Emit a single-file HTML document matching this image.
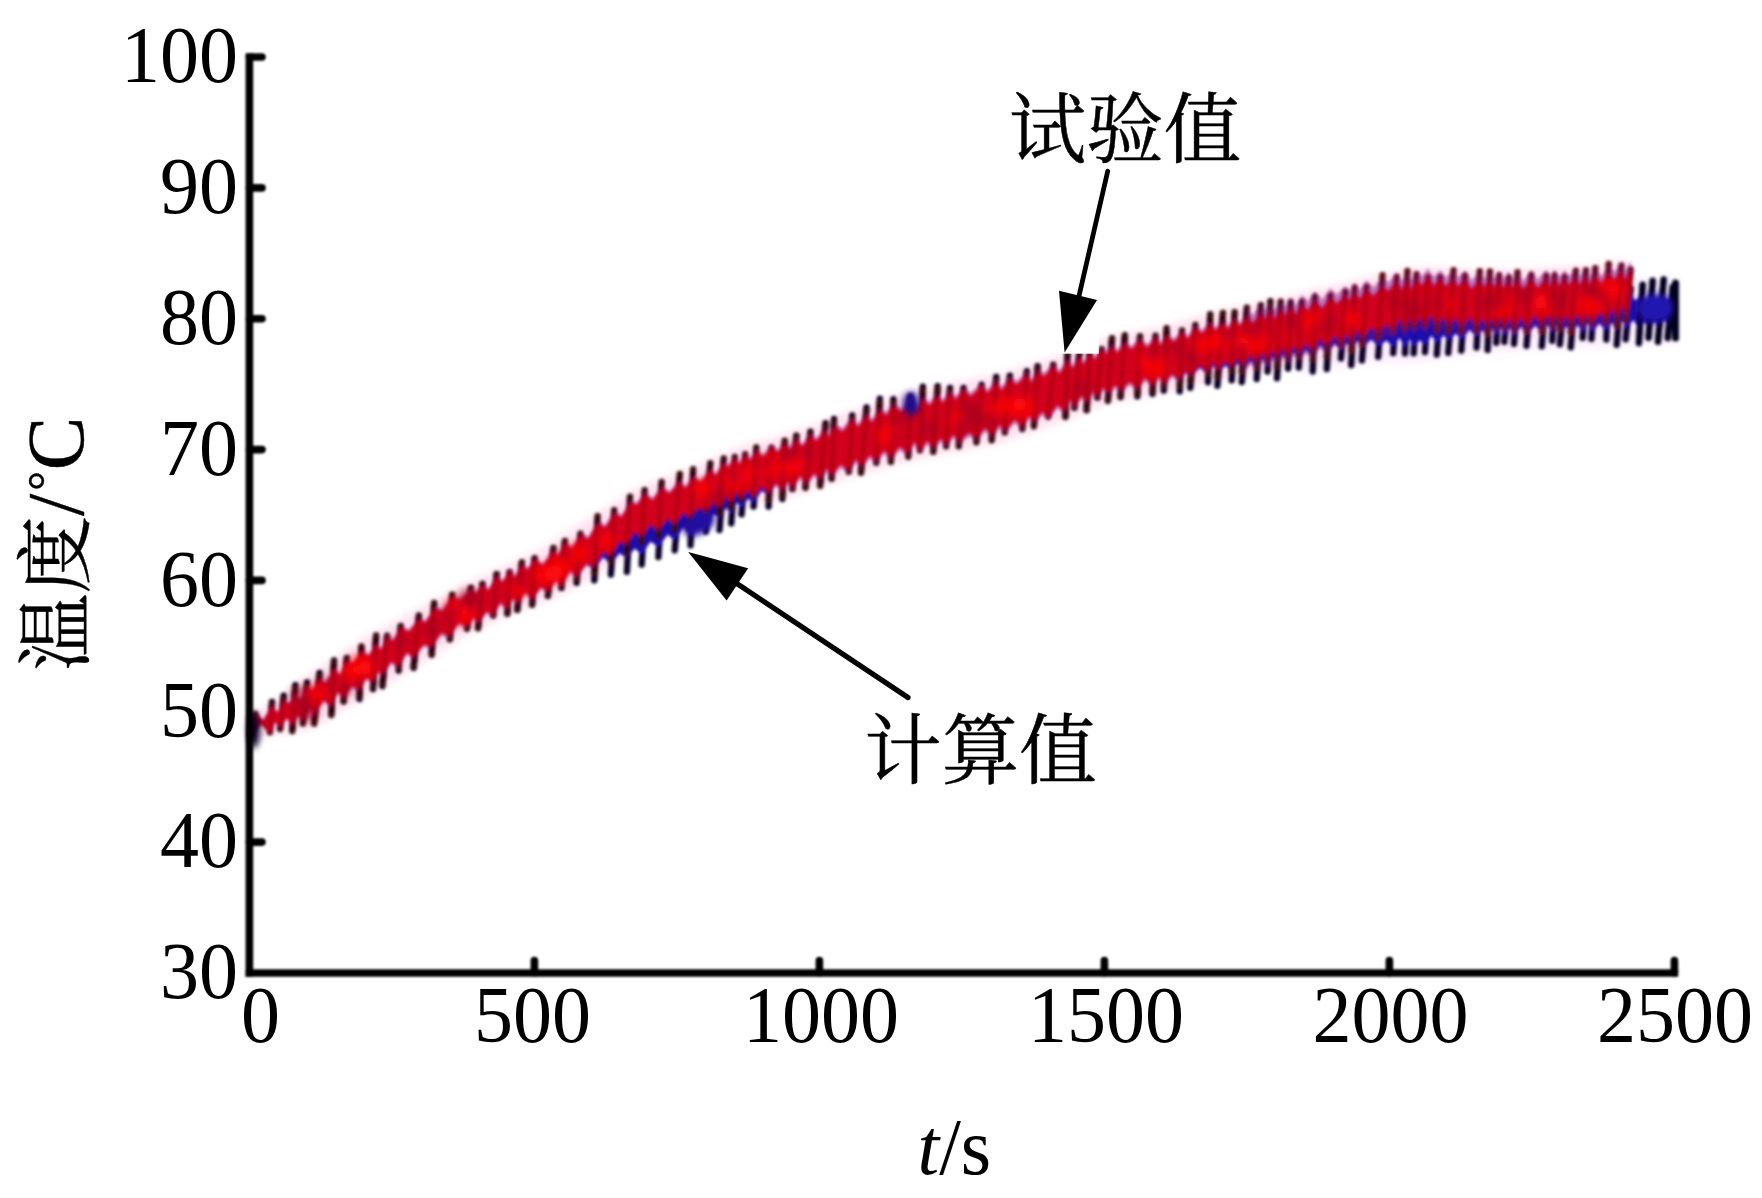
<!DOCTYPE html>
<html lang="zh"><head><meta charset="utf-8"><title>温度曲线</title>
<style>html,body{margin:0;padding:0;background:#fff;}body{width:1762px;height:1198px;overflow:hidden;}svg{display:block;}</style>
</head><body>
<svg width="1762" height="1198" viewBox="0 0 1762 1198">
<defs><filter id="b" x="-2%" y="-10%" width="104%" height="120%"><feGaussianBlur stdDeviation="1.7"/></filter><filter id="bh" x="-2%" y="-10%" width="104%" height="120%"><feGaussianBlur stdDeviation="4"/></filter><filter id="b2" x="-2%" y="-2%" width="104%" height="104%"><feGaussianBlur stdDeviation="0.8"/></filter><filter id="b3" x="-50%" y="-50%" width="200%" height="200%"><feGaussianBlur stdDeviation="3"/></filter></defs>
<rect width="1762" height="1198" fill="#fff"/>
<path d="M249.4,711.3 H262" stroke="#000" stroke-width="7.6" stroke-linecap="round" filter="url(#b2)"/>
<g filter="url(#bh)" opacity="0.22">
<path d="M252.0,713.0L260.0,709.8L268.0,705.6L276.0,699.7L284.0,693.9L292.0,688.1L300.0,682.2L308.0,676.4L316.0,670.9L324.0,665.5L332.0,660.0L340.0,654.5L348.0,649.1L356.0,643.6L364.0,638.8L372.0,634.4L380.0,630.0L388.0,625.6L396.0,621.2L404.0,616.8L412.0,612.4L420.0,608.2L428.0,603.9L436.0,599.7L444.0,595.4L452.0,591.1L460.0,586.9L468.0,583.2L476.0,579.6L484.0,576.0L492.0,572.3L500.0,568.7L508.0,565.1L516.0,561.3L524.0,557.4L532.0,553.5L540.0,549.5L548.0,545.6L556.0,540.4L564.0,535.2L572.0,530.0L580.0,524.8L588.0,519.6L596.0,514.5L604.0,509.4L612.0,504.3L620.0,499.2L628.0,494.1L636.0,489.0L644.0,485.4L652.0,482.6L660.0,479.9L668.0,477.1L676.0,474.4L684.0,471.6L692.0,468.7L700.0,465.1L708.0,461.5L716.0,457.9L724.0,454.3L732.0,450.7L740.0,447.1L748.0,444.8L756.0,442.6L764.0,440.5L772.0,438.3L780.0,436.2L788.0,434.1L796.0,431.9L804.0,429.0L812.0,425.9L820.0,422.9L828.0,419.8L836.0,416.8L844.0,413.7L852.0,410.9L860.0,408.1L868.0,405.4L876.0,402.7L884.0,399.9L892.0,397.2L900.0,394.6L908.0,392.9L916.0,391.1L924.0,389.4L932.0,387.7L940.0,386.0L948.0,384.2L956.0,382.6L964.0,381.1L972.0,379.5L980.0,377.9L988.0,376.3L996.0,374.8L1004.0,372.9L1012.0,370.5L1020.0,368.0L1028.0,365.6L1036.0,363.2L1044.0,360.7L1052.0,358.3L1060.0,355.7L1068.0,352.7L1076.0,349.7L1084.0,346.7L1092.0,343.7L1100.0,340.7L1108.0,337.7L1116.0,336.1L1124.0,334.6L1132.0,333.0L1140.0,331.5L1148.0,329.9L1156.0,328.3L1164.0,326.4L1172.0,324.2L1180.0,322.0L1188.0,319.8L1196.0,317.6L1204.0,315.4L1212.0,313.4L1220.0,311.6L1228.0,309.8L1236.0,308.0L1244.0,306.2L1252.0,304.4L1260.0,302.6L1268.0,300.8L1276.0,299.0L1284.0,297.2L1292.0,295.4L1300.0,293.6L1308.0,291.9L1316.0,290.1L1324.0,288.2L1332.0,286.3L1340.0,284.4L1348.0,282.5L1356.0,280.6L1364.0,278.7L1372.0,277.0L1380.0,275.4L1388.0,273.9L1396.0,272.3L1404.0,270.7L1412.0,269.1L1420.0,267.8L1428.0,268.1L1436.0,268.5L1444.0,268.8L1452.0,269.2L1460.0,269.5L1468.0,269.9L1476.0,270.0L1484.0,270.0L1492.0,270.0L1500.0,270.0L1508.0,270.1L1516.0,270.1L1524.0,270.0L1532.0,269.5L1540.0,269.1L1548.0,268.6L1556.0,268.2L1564.0,267.8L1572.0,267.3L1580.0,266.8L1588.0,266.2L1596.0,265.7L1604.0,264.4L1612.0,262.3L1620.0,261.2L1628.0,260.6L1628.0,325.6L1620.0,326.2L1612.0,327.3L1604.0,329.5L1596.0,330.9L1588.0,331.5L1580.0,332.1L1572.0,332.7L1564.0,333.2L1556.0,333.7L1548.0,334.2L1540.0,334.7L1532.0,335.2L1524.0,335.7L1516.0,335.9L1508.0,335.9L1500.0,336.0L1492.0,336.0L1484.0,336.0L1476.0,336.0L1468.0,336.0L1460.0,335.7L1452.0,335.4L1444.0,335.1L1436.0,334.9L1428.0,334.6L1420.0,334.3L1412.0,335.9L1404.0,337.8L1396.0,339.6L1388.0,341.5L1380.0,343.4L1372.0,345.3L1364.0,347.3L1356.0,349.5L1348.0,351.7L1340.0,353.9L1332.0,356.0L1324.0,358.2L1316.0,360.4L1308.0,362.0L1300.0,363.6L1292.0,365.3L1284.0,366.9L1276.0,368.6L1268.0,370.2L1260.0,371.9L1252.0,373.5L1244.0,375.2L1236.0,376.8L1228.0,378.5L1220.0,380.1L1212.0,381.8L1204.0,383.6L1196.0,385.5L1188.0,387.4L1180.0,389.3L1172.0,391.2L1164.0,393.1L1156.0,394.7L1148.0,396.0L1140.0,397.2L1132.0,398.5L1124.0,399.8L1116.0,401.0L1108.0,402.3L1100.0,405.6L1092.0,408.9L1084.0,412.1L1076.0,415.4L1068.0,418.7L1060.0,422.0L1052.0,424.9L1044.0,427.6L1036.0,430.3L1028.0,433.0L1020.0,435.8L1012.0,438.5L1004.0,441.2L996.0,443.2L988.0,444.7L980.0,446.3L972.0,447.9L964.0,449.5L956.0,451.0L948.0,452.6L940.0,454.4L932.0,456.1L924.0,457.8L916.0,459.5L908.0,461.3L900.0,463.0L892.0,465.2L884.0,467.5L876.0,469.8L868.0,472.1L860.0,474.3L852.0,476.6L844.0,479.1L836.0,481.7L828.0,484.3L820.0,486.9L812.0,489.5L804.0,492.1L796.0,494.6L788.0,496.4L780.0,498.3L772.0,500.2L764.0,502.0L756.0,503.9L748.0,505.7L740.0,507.8L732.0,511.1L724.0,514.4L716.0,517.7L708.0,521.0L700.0,524.3L692.0,527.6L684.0,530.6L676.0,533.5L668.0,536.4L660.0,539.3L652.0,542.2L644.0,545.1L636.0,548.9L628.0,554.1L620.0,559.4L612.0,564.6L604.0,569.9L596.0,575.1L588.0,580.4L580.0,584.4L572.0,588.4L564.0,592.4L556.0,596.4L548.0,600.4L540.0,603.1L532.0,605.9L524.0,608.6L516.0,611.3L508.0,614.7L500.0,618.6L492.0,622.5L484.0,626.4L476.0,630.3L468.0,634.2L460.0,638.3L452.0,643.4L444.0,648.6L436.0,653.8L428.0,658.9L420.0,664.1L412.0,669.2L404.0,674.0L396.0,678.7L388.0,683.4L380.0,688.1L372.0,692.8L364.0,697.5L356.0,702.2L348.0,706.7L340.0,711.3L332.0,715.9L324.0,720.5L316.0,725.0L308.0,729.6L300.0,730.8L292.0,732.1L284.0,733.3L276.0,734.5L268.0,735.8L260.0,736.2L252.0,736.2Z" fill="#ff70b0"/>
<path d="M1300.0,304.6L1308.0,302.9L1316.0,301.1L1324.0,299.9L1332.0,298.8L1340.0,297.7L1348.0,296.6L1356.0,295.5L1364.0,294.4L1372.0,294.0L1380.0,294.3L1388.0,294.6L1396.0,294.9L1404.0,295.2L1412.0,295.5L1420.0,295.6L1428.0,294.2L1436.0,292.8L1444.0,291.4L1452.0,290.0L1460.0,288.7L1468.0,287.3L1476.0,286.6L1484.0,286.2L1492.0,285.7L1500.0,285.3L1508.0,284.8L1516.0,284.4L1524.0,284.0L1532.0,283.7L1540.0,283.4L1548.0,283.2L1556.0,282.9L1564.0,282.6L1572.0,282.3L1580.0,281.9L1588.0,281.5L1596.0,281.2L1604.0,280.8L1612.0,280.4L1620.0,280.0L1628.0,279.6L1636.0,279.3L1644.0,279.0L1652.0,278.7L1660.0,278.4L1668.0,278.1L1676.0,277.8L1676.0,342.4L1668.0,342.8L1660.0,343.1L1652.0,343.5L1644.0,343.8L1636.0,344.2L1628.0,344.6L1620.0,345.0L1612.0,345.5L1604.0,345.9L1596.0,346.4L1588.0,346.8L1580.0,347.2L1572.0,347.7L1564.0,348.0L1556.0,348.4L1548.0,348.7L1540.0,349.1L1532.0,349.4L1524.0,349.7L1516.0,350.2L1508.0,350.7L1500.0,351.2L1492.0,351.7L1484.0,352.2L1476.0,352.7L1468.0,353.4L1460.0,354.9L1452.0,356.3L1444.0,357.7L1436.0,359.2L1428.0,360.6L1420.0,362.1L1412.0,362.2L1404.0,362.2L1396.0,362.2L1388.0,362.2L1380.0,362.2L1372.0,362.2L1364.0,362.9L1356.0,364.3L1348.0,365.7L1340.0,367.1L1332.0,368.5L1324.0,369.9L1316.0,371.4L1308.0,373.0L1300.0,374.6Z" fill="#e070e0" opacity="0.6"/>
</g>
<g filter="url(#b)" fill="none" stroke-linecap="round">
<path d="M250.9,735.0L255.1,714.4M269.9,730.0L272.0,702.0M280.1,726.2L283.7,695.6M292.3,727.7L295.3,685.2M302.9,719.5L307.1,682.4M314.1,720.4L319.6,672.9M331.3,713.5L334.0,660.4M343.6,701.3L346.9,658.0M359.4,699.0L361.4,648.4M373.0,689.0L376.1,637.4M382.4,686.1L387.1,637.6M398.7,670.6L400.7,628.0M413.6,667.8L418.9,617.3M431.7,654.9L434.1,604.0M449.9,639.4L452.2,595.1M467.0,628.5L470.9,587.9M478.0,628.1L482.5,584.0M493.1,615.4L496.6,574.1M507.4,613.7L509.6,572.1M517.3,609.9L521.9,562.6M532.1,604.8L534.6,558.9M547.9,595.9L553.4,549.2M561.4,587.9L564.9,543.0M576.6,582.8L580.4,536.8M594.3,580.3L597.6,523.1M610.9,574.5L614.2,522.8M626.9,571.8L630.0,515.0M641.7,564.5L644.6,512.0M658.4,557.1L661.6,502.7M674.7,550.3L679.8,493.7M690.5,545.3L693.1,488.0M705.7,531.5L710.3,480.8M719.5,530.1L723.7,474.9M731.2,523.4L734.8,472.6M741.5,514.4L745.2,468.6M753.6,506.6L756.3,458.5M768.6,506.7L771.4,454.5M782.3,499.0L784.7,443.6M792.4,488.9L796.3,435.7M805.5,486.3L810.4,431.7M820.1,483.9L825.5,423.2M831.6,476.5L834.0,419.0M848.8,468.9L852.2,415.5M861.0,469.8L866.5,407.4M876.3,459.8L879.8,398.8M890.9,458.8L893.4,399.3M908.2,453.7L910.3,396.5M919.9,447.3L922.8,386.7M933.3,448.7L937.6,386.1M946.1,443.3L950.0,387.9M958.8,443.3L963.5,387.9M976.4,439.3L981.6,384.6M991.7,437.3L996.2,377.0M1004.8,429.6L1009.9,375.8M1022.3,426.8L1026.8,371.2M1033.9,424.6L1037.6,366.1M1048.3,415.3L1053.2,364.7M1065.4,416.3L1067.5,352.5M1074.4,407.6L1079.4,352.2M1086.6,410.2L1089.6,353.2M1097.4,397.6L1101.6,349.8M1107.9,400.9L1112.0,339.2M1120.6,397.0L1124.8,336.7M1137.4,396.4L1140.0,338.4M1152.5,393.8L1155.5,338.5M1163.8,390.6L1166.6,331.9M1179.7,391.3L1182.0,335.6M1190.3,387.8L1195.4,331.2M1208.0,382.2L1210.2,322.0M1217.4,385.7L1222.9,321.5M1231.7,380.4L1234.6,321.5M1241.8,382.0L1246.8,317.7M1256.7,379.0L1260.8,315.9M1267.6,371.6L1270.4,312.3M1277.0,378.3L1280.7,312.8M1288.1,368.6L1290.7,313.0M1298.8,367.6L1301.7,312.8M1312.7,371.5L1314.8,307.7M1326.8,369.0L1330.4,307.9M1340.9,358.4L1345.5,305.0M1351.2,365.0L1354.7,301.9M1361.9,360.4L1366.5,302.4M1378.2,356.9L1382.5,294.1M1393.2,353.1L1396.7,298.9M1405.0,353.4L1407.4,295.9M1413.7,353.3L1416.5,301.2M1425.0,352.0L1428.1,303.5M1436.8,354.5L1440.3,301.0M1448.2,352.9L1453.5,291.3M1461.3,350.5L1465.0,293.9M1476.6,347.5L1479.7,287.8M1487.6,350.0L1489.9,287.3M1496.3,342.8L1499.2,290.6M1504.3,341.9L1508.9,292.4M1514.0,343.9L1517.5,286.5M1526.5,345.8L1531.2,288.9M1541.8,346.3L1546.4,290.1M1552.3,340.8L1554.6,289.8M1559.9,344.2L1564.7,291.7M1570.7,347.4L1575.8,285.7M1582.7,337.8L1585.9,285.4M1591.4,338.9L1595.3,283.8M1606.3,339.5L1608.7,281.1M1616.7,344.8L1621.4,284.2M1625.7,339.3L1630.7,288.4M1638.9,343.2L1642.6,284.6M1648.6,337.7L1652.6,280.8M1658.0,341.9L1663.6,279.5M1667.7,338.1L1672.7,286.9" stroke="#0a0428" stroke-width="6.4"/>
<path d="M255.1,714.6L263.0,721.2L272.0,705.6L277.4,712.9L283.7,699.5L288.8,703.8L295.3,693.7L300.4,699.7L307.1,686.0L311.9,691.3L319.6,679.1L325.7,684.4L334.0,670.2L339.9,677.5L346.9,665.2L353.8,668.7L361.4,657.0L368.5,662.0L376.1,649.4L380.7,655.6L387.1,642.2L393.2,646.6L400.7,633.3L409.0,637.1L418.9,624.8L425.6,627.8L434.1,613.3L443.0,615.5L452.2,601.8L461.0,605.1L470.9,593.3L475.6,597.2L482.5,588.2L488.5,593.9L496.6,579.8L502.6,585.6L509.6,574.1L515.0,581.1L521.9,568.7L527.5,573.9L534.6,563.8L543.0,570.3L553.4,555.8L557.9,561.6L564.9,548.8L571.9,555.8L580.4,542.2L588.3,546.7L597.6,534.1L605.3,541.0L614.2,529.6L621.5,536.6L630.0,524.7L636.8,529.8L644.6,519.5L652.6,525.6L661.6,512.5L669.6,517.6L679.8,505.1L685.5,511.6L693.1,499.9L700.9,504.8L710.3,491.1L715.8,496.7L723.7,483.5L728.3,488.2L734.8,477.5L739.2,484.2L745.2,473.1L750.2,477.2L756.3,466.1L763.5,470.7L771.4,457.7L777.8,461.7L784.7,450.8L790.0,455.9L796.3,443.0L802.2,450.3L810.4,438.6L816.4,443.8L825.5,432.2L828.8,439.6L834.0,428.5L842.7,433.2L852.2,421.2L858.1,428.6L866.5,416.9L871.9,424.1L879.8,411.7L886.1,417.4L893.4,407.5L901.7,413.9L910.3,401.7L916.3,410.6L922.8,400.4L929.4,407.3L937.6,397.7L942.7,404.9L950.0,394.2L955.6,401.3L963.5,392.1L971.1,398.2L981.6,387.6L987.5,394.9L996.2,384.4L1001.6,392.0L1009.9,381.4L1016.9,386.8L1026.8,376.9L1031.1,385.6L1037.6,374.7L1044.3,379.7L1053.2,369.7L1059.6,377.3L1067.5,364.4L1072.7,372.7L1079.4,361.0L1083.5,369.1L1089.6,357.9L1094.8,364.4L1101.6,354.5L1105.7,359.6L1112.0,351.9L1117.3,358.6L1124.8,349.6L1131.7,355.5L1140.0,346.4L1147.4,354.8L1155.5,344.6L1160.6,352.9L1166.6,344.1L1174.0,351.3L1182.0,341.7L1187.8,348.8L1195.4,338.5L1202.0,344.9L1210.2,336.2L1215.6,343.3L1222.9,335.5L1227.6,342.7L1234.6,333.1L1239.7,340.0L1246.8,331.1L1252.6,339.4L1260.8,329.0L1264.9,335.1L1270.4,326.7L1274.9,334.9L1280.7,324.7L1285.1,331.8L1290.7,322.5L1295.8,330.8L1301.7,320.4L1308.0,326.2L1314.8,316.2L1322.2,324.8L1330.4,314.3L1336.9,321.4L1345.5,313.4L1349.1,319.4L1354.7,311.4L1359.6,318.6L1366.5,309.9L1373.3,317.9L1382.5,310.1L1388.6,316.5L1396.7,308.6L1401.6,318.2L1407.4,309.9L1411.6,319.7L1416.5,311.0L1421.8,317.6L1428.1,308.0L1433.5,315.4L1440.3,307.2L1445.7,313.0L1453.5,305.2L1458.0,310.6L1465.0,302.3L1471.6,310.5L1479.7,301.5L1484.4,307.9L1489.9,300.7L1494.3,307.4L1499.2,299.7L1503.2,307.3L1508.9,299.7L1512.2,307.2L1517.5,298.7L1523.3,308.1L1531.2,297.6L1537.5,306.9L1546.4,297.1L1549.8,305.6L1554.6,297.0L1558.9,305.0L1564.7,297.9L1568.8,304.2L1575.8,297.1L1579.8,304.6L1585.9,295.4L1589.8,305.0L1595.3,295.7L1601.4,305.1L1608.7,295.0L1614.3,303.0L1621.4,293.4L1624.6,302.9L1630.7,293.0L1635.5,300.8L1642.6,294.0L1646.7,301.1L1652.6,293.6L1656.7,300.9L1663.6,292.4L1666.5,300.7L1672.7,293.0L1673.7,299.5L1671.7,320.7L1667.7,327.5L1664.5,319.7L1658.0,328.6L1654.7,321.3L1648.6,328.9L1644.7,321.8L1638.9,329.2L1633.5,320.0L1625.7,329.3L1622.6,320.6L1616.7,330.9L1612.3,322.7L1606.3,331.3L1599.4,323.5L1591.4,333.0L1587.8,322.9L1582.7,333.1L1577.8,325.3L1570.7,333.1L1566.8,326.4L1559.9,333.0L1556.9,324.9L1552.3,333.7L1547.8,324.9L1541.8,334.3L1535.5,325.4L1526.5,335.5L1521.3,326.8L1514.0,336.6L1510.2,328.3L1504.3,336.1L1501.2,327.9L1496.3,336.4L1492.3,329.3L1487.6,336.7L1482.4,330.2L1476.6,337.4L1469.6,329.8L1461.3,340.3L1456.0,333.4L1448.2,341.1L1443.7,335.3L1436.8,343.5L1431.5,335.5L1425.0,345.8L1419.8,340.3L1413.7,347.3L1409.6,339.3L1405.0,348.5L1399.6,337.7L1393.2,347.6L1386.6,340.5L1378.2,346.5L1371.3,339.6L1361.9,348.2L1357.6,340.9L1351.2,349.6L1347.1,343.4L1340.9,350.7L1334.9,343.5L1326.8,353.3L1320.2,345.1L1312.7,356.7L1306.0,349.9L1298.8,358.7L1293.8,352.2L1288.1,362.3L1283.1,354.4L1277.0,363.7L1272.9,356.4L1267.6,366.4L1262.9,358.8L1256.7,367.1L1250.6,360.8L1241.8,370.9L1237.7,363.0L1231.7,371.7L1225.6,365.6L1217.4,374.3L1213.6,365.8L1208.0,375.2L1200.0,367.6L1190.3,377.3L1185.8,371.9L1179.7,380.4L1172.0,373.9L1163.8,383.1L1158.6,374.3L1152.5,384.3L1145.4,375.6L1137.4,386.5L1129.7,379.4L1120.6,387.7L1115.3,382.1L1107.9,390.2L1103.7,383.7L1097.4,392.9L1092.8,387.1L1086.6,397.8L1081.5,390.2L1074.4,402.5L1070.7,394.0L1065.4,406.3L1057.6,399.4L1048.3,411.8L1042.3,405.6L1033.9,415.1L1029.1,408.2L1022.3,420.0L1014.9,412.4L1004.8,423.4L999.6,416.5L991.7,427.4L985.5,419.7L976.4,430.4L969.1,424.5L958.8,433.9L953.6,426.7L946.1,436.6L940.7,430.6L933.3,439.9L927.4,433.0L919.9,442.6L914.3,433.9L908.2,445.6L899.7,438.8L890.9,449.8L884.1,442.8L876.3,453.0L869.9,447.7L861.0,458.7L856.1,451.7L848.8,462.6L840.7,457.2L831.6,468.4L826.8,461.9L820.1,472.7L814.4,467.1L805.5,477.7L800.2,470.0L792.4,483.6L788.0,478.5L782.3,488.7L775.8,483.6L768.6,495.0L761.5,491.0L753.6,503.4L748.2,498.6L741.5,508.8L737.2,502.5L731.2,514.5L726.3,507.7L719.5,518.8L713.8,514.2L705.7,526.8L698.9,521.8L690.5,534.7L683.5,527.6L674.7,540.5L667.6,534.5L658.4,547.2L650.6,541.6L641.7,554.8L634.8,548.4L626.9,558.3L619.5,553.2L610.9,564.5L603.3,557.3L594.3,569.2L586.3,563.5L576.6,576.3L569.9,569.3L561.4,584.0L555.9,576.8L547.9,589.0L541.0,584.0L532.1,596.8L525.5,588.8L517.3,600.0L513.0,594.3L507.4,605.9L500.6,599.0L493.1,611.6L486.5,608.0L478.0,619.5L473.6,613.7L467.0,623.0L459.0,618.5L449.9,633.5L441.0,630.0L431.7,644.3L423.6,642.4L413.6,655.7L407.0,650.9L398.7,664.8L391.2,660.3L382.4,673.7L378.7,669.7L373.0,680.7L366.5,675.8L359.4,688.4L351.8,683.9L343.6,694.3L337.9,687.4L331.3,701.5L323.7,694.5L314.1,708.7L309.9,701.6L302.9,713.7L298.4,708.7L292.3,719.5L286.8,712.2L280.1,722.8L275.4,716.7L269.9,729.1L261.0,720.7L250.9,734.6Z" fill="#1e08ac" stroke="none"/>
<path d="M250.9,734.6L255.1,714.0M269.9,732.3L272.0,704.3M280.1,729.0L283.7,698.4M292.3,731.0L295.3,688.5M302.9,723.4L307.1,686.2M314.1,723.6L319.6,676.0M331.3,715.1L334.0,662.0M343.6,701.4L346.9,658.1M359.4,697.0L361.4,646.4M373.0,687.0L376.1,635.4M382.4,684.1L387.1,635.6M398.7,668.6L400.7,626.0M413.6,666.1L418.9,615.5M431.7,653.8L434.1,602.9M449.9,639.0L452.2,594.7M467.0,628.5L470.9,587.9M478.0,628.1L482.5,584.0M493.1,615.4L496.6,574.1M507.4,613.7L509.6,572.1M517.3,609.7L521.9,562.4M532.1,604.2L534.6,558.3M547.9,594.7L553.4,548.0M561.4,585.7L564.9,540.9M576.6,579.5L580.4,533.6M594.3,573.4L597.6,516.3M610.9,561.9L614.2,510.2M626.9,553.5L630.0,496.7M641.7,542.7L644.6,490.2M658.4,536.4L661.6,482.0M674.7,530.5L679.8,474.0M690.5,526.4L693.1,469.1M705.7,513.9L710.3,463.2M719.5,513.6L723.7,458.4M731.2,507.7L734.8,457.0M741.5,500.1L745.2,454.3M753.6,495.6L756.3,447.5M768.6,500.0L771.4,447.7M782.3,496.2L784.7,440.8M792.4,489.1L796.3,436.0M805.5,487.7L810.4,433.1M820.1,485.9L825.5,425.2M831.6,478.9L834.0,421.4M848.8,471.9L852.2,418.5M861.0,472.8L866.5,410.4M876.3,462.8L879.8,401.8M890.9,461.8L893.4,402.3M908.2,456.7L910.3,399.5M919.9,450.3L922.8,389.7M933.3,451.7L937.6,389.1M946.1,446.3L950.0,390.9M958.8,446.3L963.5,390.9M976.4,442.3L981.6,387.6M991.7,440.3L996.2,380.0M1004.8,432.4L1009.9,378.6M1022.3,429.0L1026.8,373.4M1033.9,426.3L1037.6,367.9M1048.3,416.5L1053.2,365.9M1065.4,417.0L1067.5,353.1M1074.4,407.8L1079.4,352.4M1086.6,410.0L1089.6,353.0M1097.4,397.0L1101.6,349.1M1107.9,399.8L1112.0,338.2M1120.6,395.4L1124.8,335.1M1137.4,394.2L1140.0,336.2M1152.5,391.0L1155.5,335.7M1163.8,387.0L1166.6,328.3M1179.7,386.2L1182.0,330.4M1190.3,381.4L1195.4,324.9M1208.0,374.3L1210.2,314.1M1217.4,377.1L1222.9,312.9M1231.7,371.1L1234.6,312.1M1241.8,371.9L1246.8,307.7M1256.7,368.2L1260.8,305.1M1267.6,360.6L1270.4,301.3M1277.0,367.3L1280.7,301.8M1288.1,357.6L1290.7,302.0M1298.8,356.6L1301.7,301.8M1312.7,360.5L1314.8,296.7M1326.8,356.9L1330.4,295.8" stroke="#340810" stroke-width="6.4"/>
<path d="M1340.9,344.9L1345.5,291.4M1351.2,350.5L1354.7,287.4M1361.9,344.8L1366.5,286.7M1378.2,338.0L1382.5,275.2M1393.2,330.8L1396.7,276.6M1405.0,328.4L1407.4,270.9M1413.7,326.2L1416.5,274.1M1425.0,325.6L1428.1,277.1M1436.8,330.7L1440.3,277.2M1448.2,331.8L1453.5,270.2M1461.3,332.0L1465.0,275.4M1476.6,331.0L1479.7,271.3M1487.6,334.1L1489.9,271.4M1496.3,327.4L1499.2,275.3M1504.3,327.0L1508.9,277.5M1514.0,329.6L1517.5,272.2M1526.5,331.6L1531.2,274.8M1541.8,331.9L1546.4,275.6M1552.3,326.2L1554.6,275.1M1559.9,329.3L1564.7,276.9M1570.7,332.4L1575.8,270.6M1582.7,322.6L1585.9,270.2M1591.4,323.4L1595.3,268.3M1606.3,322.3L1608.7,263.9M1616.7,325.9L1621.4,265.4M1625.7,320.4L1630.7,269.4" stroke="#5c0c12" stroke-width="6.4"/>
<path d="M255.1,711.0L263.0,719.4L272.0,703.8L277.4,711.4L283.7,697.9L288.8,702.5L295.3,692.2L300.4,698.5L307.1,684.7L311.9,689.9L319.6,676.9L325.7,681.5L334.0,666.2L339.9,672.9L346.9,659.6L353.8,661.8L361.4,649.0L368.5,654.1L376.1,641.5L380.7,647.6L387.1,634.2L393.2,638.6L400.7,625.4L409.0,629.2L418.9,617.1L425.6,620.5L434.1,606.3L443.0,608.8L452.2,595.5L461.0,599.1L470.9,587.4L475.6,591.3L482.5,582.3L488.5,587.9L496.6,573.9L502.6,579.7L509.6,568.1L515.0,575.1L521.9,562.5L527.5,567.5L534.6,557.0L543.0,563.3L553.4,548.3L557.9,553.6L564.9,540.2L571.9,546.6L580.4,532.3L588.3,536.2L597.6,520.6L605.3,524.6L614.2,510.3L621.5,514.4L630.0,499.8L636.8,502.2L644.6,491.0L652.6,497.6L661.6,485.1L669.6,490.7L679.8,478.7L685.5,485.6L693.1,474.4L700.9,479.9L710.3,466.6L715.8,472.9L723.7,460.0L728.3,465.1L734.8,454.8L739.2,461.9L745.2,451.6L750.2,457.3L756.3,447.8L763.5,454.5L771.4,443.5L777.8,449.5L784.7,440.4L790.0,447.0L796.3,435.5L802.2,443.8L810.4,432.3L816.4,437.7L825.5,426.3L828.8,433.9L834.0,423.0L842.7,428.0L852.2,416.1L858.1,423.5L866.5,411.7L871.9,419.0L879.8,406.5L886.1,412.1L893.4,402.1L901.7,408.5L910.3,396.3L916.3,405.2L922.8,395.0L929.4,401.9L937.6,392.3L942.7,399.5L950.0,388.8L955.6,395.9L963.5,386.7L971.1,392.8L981.6,382.2L987.5,389.5L996.2,379.0L1001.6,386.6L1009.9,375.8L1016.9,380.9L1026.8,370.8L1031.1,379.3L1037.6,368.3L1044.3,373.0L1053.2,362.8L1059.6,370.2L1067.5,357.1L1072.7,365.1L1079.4,353.3L1083.5,361.2L1089.6,349.9L1094.8,356.1L1101.6,346.1L1105.7,351.0L1112.0,343.1L1117.3,349.5L1124.8,340.4L1131.7,345.9L1140.0,336.5L1147.4,344.6L1155.5,334.1L1160.6,342.1L1166.6,332.8L1174.0,339.3L1182.0,328.9L1187.8,335.4L1195.4,324.5L1202.0,330.1L1210.2,320.6L1215.6,327.4L1222.9,319.2L1227.6,326.0L1234.6,316.0L1239.7,322.7L1246.8,313.4L1252.6,321.3L1260.8,310.4L1264.9,316.4L1270.4,308.0L1274.9,316.2L1280.7,306.0L1285.1,313.1L1290.7,303.8L1295.8,312.1L1301.7,301.7L1308.0,307.5L1314.8,297.5L1322.2,305.7L1330.4,294.5L1336.9,300.9L1345.5,292.3L1349.1,297.8L1354.7,289.3L1359.6,295.9L1366.5,286.7L1373.3,293.3L1382.5,283.7L1388.6,288.4L1396.7,278.8L1401.6,287.1L1407.4,277.5L1411.6,286.3L1416.5,276.5L1421.8,282.6L1428.1,274.2L1433.5,283.0L1440.3,276.1L1445.7,283.3L1453.5,276.8L1458.0,283.5L1465.0,276.5L1471.6,286.2L1479.7,277.7L1484.4,284.5L1489.9,277.5L1494.3,284.5L1499.2,277.0L1503.2,284.9L1508.9,277.7L1512.2,285.4L1517.5,277.2L1523.3,286.9L1531.2,276.2L1537.5,285.4L1546.4,275.4L1549.8,283.9L1554.6,275.2L1558.9,283.1L1564.7,276.0L1568.8,282.1L1575.8,275.0L1579.8,282.3L1585.9,273.1L1589.8,282.6L1595.3,273.2L1601.4,282.3L1608.7,270.8L1614.3,277.5L1621.4,267.5L1624.6,277.0L1630.7,266.9L1631.7,274.9L1629.7,308.3L1625.7,317.4L1622.6,308.8L1616.7,319.2L1612.3,311.4L1606.3,321.2L1599.4,314.9L1591.4,324.7L1587.8,314.7L1582.7,325.0L1577.8,317.3L1570.7,325.2L1566.8,318.6L1559.9,325.3L1556.9,317.4L1552.3,326.2L1547.8,317.5L1541.8,327.0L1535.5,318.3L1526.5,328.5L1521.3,320.0L1514.0,329.5L1510.2,320.9L1504.3,328.5L1501.2,320.1L1496.3,328.3L1492.3,320.9L1487.6,328.1L1482.4,321.2L1476.6,328.1L1469.6,320.1L1461.3,329.1L1456.0,320.9L1448.2,327.3L1443.7,320.1L1436.8,327.0L1431.5,317.7L1425.0,326.8L1419.8,320.1L1413.7,327.5L1409.6,320.6L1405.0,330.9L1399.6,321.4L1393.2,332.6L1386.6,327.3L1378.2,335.1L1371.3,330.1L1361.9,340.1L1357.6,333.4L1351.2,342.7L1347.1,337.0L1340.9,344.8L1334.9,338.3L1326.8,348.8L1320.2,341.4L1312.7,353.4L1306.0,346.6L1298.8,355.4L1293.8,348.9L1288.1,359.0L1283.1,351.1L1277.0,360.4L1272.9,353.1L1267.6,363.1L1262.9,355.5L1256.7,364.0L1250.6,358.0L1241.8,368.6L1237.7,361.1L1231.7,370.1L1225.6,364.3L1217.4,373.4L1213.6,365.3L1208.0,375.0L1200.0,368.2L1190.3,378.7L1185.8,373.8L1179.7,382.9L1172.0,377.2L1163.8,387.2L1158.6,378.9L1152.5,389.2L1145.4,380.8L1137.4,392.0L1129.7,385.2L1120.6,393.8L1115.3,388.4L1107.9,396.8L1103.7,390.6L1097.4,400.0L1092.8,394.5L1086.6,405.4L1081.5,398.1L1074.4,410.6L1070.7,402.4L1065.4,414.9L1057.6,408.4L1048.3,421.1L1042.3,415.3L1033.9,425.0L1029.1,418.4L1022.3,430.4L1014.9,423.2L1004.8,434.6L999.6,427.9L991.7,438.8L985.5,431.1L976.4,441.8L969.1,435.9L958.8,445.3L953.6,438.1L946.1,448.0L940.7,442.0L933.3,451.3L927.4,444.4L919.9,454.0L914.3,445.3L908.2,457.0L899.7,450.2L890.9,461.2L884.1,454.0L876.3,464.3L869.9,458.8L861.0,469.8L856.1,462.8L848.8,473.7L840.7,467.9L831.6,478.7L826.8,471.9L820.1,482.6L814.4,476.6L805.5,486.9L800.2,478.9L792.4,491.5L788.0,484.8L782.3,493.5L775.8,486.3L768.6,495.7L761.5,489.4L753.6,499.7L748.2,493.1L741.5,501.6L737.2,494.4L731.2,505.9L726.3,498.6L719.5,509.3L713.8,504.0L705.7,516.0L698.9,510.2L690.5,522.5L683.5,514.9L674.7,527.4L667.6,520.9L658.4,533.1L650.6,527.0L641.7,539.7L634.8,534.2L626.9,546.7L619.5,544.4L610.9,558.5L603.3,554.2L594.3,569.0L586.3,566.2L576.6,579.6L569.9,573.0L561.4,588.3L555.9,581.4L547.9,594.2L541.0,589.3L532.1,602.3L525.5,594.4L517.3,605.8L513.0,600.2L507.4,611.9L500.6,604.9L493.1,617.5L486.5,613.9L478.0,625.5L473.6,619.6L467.0,629.0L459.0,624.4L449.9,639.1L441.0,635.2L431.7,649.2L423.6,646.9L413.6,659.9L407.0,654.8L398.7,668.8L391.2,664.3L382.4,677.6L378.7,673.6L373.0,684.7L366.5,679.8L359.4,692.4L351.8,688.6L343.6,700.2L337.9,694.0L331.3,708.7L323.7,702.3L314.1,717.2L309.9,710.5L302.9,722.7L298.4,717.1L292.3,727.6L286.8,719.6L280.1,730.0L275.4,723.3L269.9,735.5L261.0,725.3L250.9,737.4Z" fill="#8a0a60" stroke="none" opacity="0.5"/>
<path d="M1246.8,306.8L1252.6,314.7L1260.8,303.8L1264.9,309.8L1270.4,301.4L1274.9,309.6L1280.7,299.4L1285.1,306.5L1290.7,297.2L1295.8,305.5L1301.7,295.1L1308.0,300.9L1314.8,290.9L1322.2,299.1L1330.4,288.0L1336.9,294.3L1345.5,285.7L1349.1,291.2L1354.7,282.8L1359.6,289.4L1366.5,280.3L1373.3,286.9L1382.5,277.3L1388.6,281.9L1396.7,272.4L1401.6,280.7L1407.4,271.2L1411.6,280.0L1416.5,270.2L1421.8,276.3L1428.1,267.9L1433.5,276.7L1440.3,269.8L1445.7,277.0L1453.5,270.5L1458.0,277.3L1465.0,270.3L1471.6,280.0L1479.7,271.4L1484.4,278.2L1489.9,271.3L1494.3,278.3L1499.2,270.8L1503.2,278.7L1508.9,271.5L1512.2,279.2L1517.5,271.0L1523.3,280.7L1531.2,270.1L1537.5,279.2L1546.4,269.3L1549.8,277.8L1554.6,269.0L1558.9,277.0L1564.7,269.8L1568.8,276.0L1575.8,268.9L1579.8,276.2L1585.9,266.9L1589.8,276.5L1595.3,267.1L1601.4,276.2L1608.7,264.7L1614.3,271.4L1621.4,261.5L1624.6,270.9L1630.7,260.9L1631.7,268.8L1629.7,314.3L1625.7,323.5L1622.6,314.8L1616.7,325.3L1612.3,317.5L1606.3,327.3L1599.4,321.0L1591.4,330.8L1587.8,320.8L1582.7,331.1L1577.8,323.4L1570.7,331.4L1566.8,324.7L1559.9,331.5L1556.9,323.5L1552.3,332.4L1547.8,323.7L1541.8,333.2L1535.5,324.5L1526.5,334.7L1521.3,326.2L1514.0,335.7L1510.2,327.1L1504.3,334.7L1501.2,326.3L1496.3,334.5L1492.3,327.1L1487.6,334.3L1482.4,327.4L1476.6,334.4L1469.6,326.3L1461.3,335.4L1456.0,327.1L1448.2,333.6L1443.7,326.4L1436.8,333.3L1431.5,324.0L1425.0,333.1L1419.8,326.4L1413.7,333.9L1409.6,327.0L1405.0,337.3L1399.6,327.8L1393.2,339.0L1386.6,333.7L1378.2,341.5L1371.3,336.6L1361.9,346.5L1357.6,339.9L1351.2,349.2L1347.1,343.5L1340.9,351.3L1334.9,344.9L1326.8,355.4L1320.2,348.0L1312.7,360.0L1306.0,353.2L1298.8,362.0L1293.8,355.5L1288.1,365.6L1283.1,357.7L1277.0,367.0L1272.9,359.7L1267.6,369.7L1262.9,362.1L1256.7,370.6L1250.6,364.6L1241.8,375.2Z" fill="#8a0a70" stroke="none" opacity="0.45"/>
<path d="M255.1,712.4L263.0,720.7L272.0,705.5L277.4,713.1L283.7,699.8L288.8,704.4L295.3,694.3L300.4,700.5L307.1,686.9L311.9,692.1L319.6,679.2L325.7,683.8L334.0,668.6L339.9,675.3L346.9,662.0L353.8,664.3L361.4,651.6L368.5,656.6L376.1,644.0L380.7,650.2L387.1,636.8L393.2,641.2L400.7,627.9L409.0,631.7L418.9,619.6L425.6,623.0L434.1,608.8L443.0,611.3L452.2,598.0L461.0,601.6L470.9,589.9L475.6,593.8L482.5,584.8L488.5,590.5L496.6,576.4L502.6,582.2L509.6,570.7L515.0,577.7L521.9,565.1L527.5,570.1L534.6,559.6L543.0,565.9L553.4,551.0L557.9,556.3L564.9,543.0L571.9,549.4L580.4,535.1L588.3,539.0L597.6,523.4L605.3,527.5L614.2,513.2L621.5,517.3L630.0,502.7L636.8,505.1L644.6,493.9L652.6,500.5L661.6,487.9L669.6,493.6L679.8,481.6L685.5,488.5L693.1,477.2L700.9,482.7L710.3,469.6L715.8,475.8L723.7,463.0L728.3,468.1L734.8,457.9L739.2,464.9L745.2,454.6L750.2,460.4L756.3,450.9L763.5,457.6L771.4,446.7L777.8,452.6L784.7,443.7L790.0,450.2L796.3,438.8L802.2,447.1L810.4,435.6L816.4,441.1L825.5,429.7L828.8,437.3L834.0,426.4L842.7,431.4L852.2,419.6L858.1,427.0L866.5,415.2L871.9,422.5L879.8,410.0L886.1,415.6L893.4,405.7L901.7,412.1L910.3,399.9L916.3,408.8L922.8,398.6L929.4,405.5L937.6,395.9L942.7,403.1L950.0,392.4L955.6,399.5L963.5,390.3L971.1,396.4L981.6,385.8L987.5,393.1L996.2,382.6L1001.6,390.2L1009.9,379.4L1016.9,384.5L1026.8,374.3L1031.1,382.8L1037.6,371.8L1044.3,376.5L1053.2,366.3L1059.6,373.7L1067.5,360.5L1072.7,368.6L1079.4,356.7L1083.5,364.6L1089.6,353.2L1094.8,359.4L1101.6,349.4L1105.7,354.3L1112.0,346.4L1117.3,352.8L1124.8,343.7L1131.7,349.2L1140.0,339.8L1147.4,347.9L1155.5,337.4L1160.6,345.4L1166.6,336.1L1174.0,342.6L1182.0,332.2L1187.8,338.7L1195.4,327.8L1202.0,333.4L1210.2,323.9L1215.6,330.7L1222.9,322.5L1227.6,329.3L1234.6,319.3L1239.7,326.0L1246.8,316.7L1252.6,324.6L1260.8,313.7L1264.9,319.7L1270.4,311.3L1274.9,319.5L1280.7,309.3L1285.1,316.4L1290.7,307.1L1295.8,315.4L1301.7,305.0L1308.0,310.8L1314.8,300.8L1322.2,309.0L1330.4,297.8L1336.9,304.2L1345.5,295.5L1349.1,301.0L1354.7,292.6L1359.6,299.2L1366.5,290.0L1373.3,296.6L1382.5,287.0L1388.6,291.6L1396.7,282.0L1401.6,290.3L1407.4,280.7L1411.6,289.5L1416.5,279.7L1421.8,285.8L1428.1,277.4L1433.5,286.1L1440.3,279.2L1445.7,286.4L1453.5,279.9L1458.0,286.7L1465.0,279.7L1471.6,289.3L1479.7,280.8L1484.4,287.6L1489.9,280.6L1494.3,287.7L1499.2,280.2L1503.2,288.0L1508.9,280.8L1512.2,288.5L1517.5,280.3L1523.3,290.0L1531.2,279.3L1537.5,288.5L1546.4,278.5L1549.8,287.0L1554.6,278.3L1558.9,286.2L1564.7,279.0L1568.8,285.2L1575.8,278.0L1579.8,285.4L1585.9,276.1L1589.8,285.6L1595.3,276.3L1601.4,285.4L1608.7,273.8L1614.3,280.5L1621.4,270.6L1624.6,280.0L1630.7,270.0L1631.7,277.9L1629.7,305.3L1625.7,314.4L1622.6,305.7L1616.7,316.1L1612.3,308.4L1606.3,318.1L1599.4,311.9L1591.4,321.7L1587.8,311.7L1582.7,321.9L1577.8,314.2L1570.7,322.2L1566.8,315.5L1559.9,322.3L1556.9,314.3L1552.3,323.1L1547.8,314.4L1541.8,323.9L1535.5,315.2L1526.5,325.4L1521.3,316.9L1514.0,326.4L1510.2,317.8L1504.3,325.4L1501.2,317.0L1496.3,325.2L1492.3,317.8L1487.6,325.0L1482.4,318.1L1476.6,325.0L1469.6,317.0L1461.3,326.0L1456.0,317.7L1448.2,324.2L1443.7,317.0L1436.8,323.9L1431.5,314.6L1425.0,323.6L1419.8,316.9L1413.7,324.4L1409.6,317.5L1405.0,327.8L1399.6,318.2L1393.2,329.5L1386.6,324.1L1378.2,331.8L1371.3,326.9L1361.9,336.9L1357.6,330.1L1351.2,339.4L1347.1,333.7L1340.9,341.5L1334.9,335.1L1326.8,345.5L1320.2,338.1L1312.7,350.1L1306.0,343.3L1298.8,352.1L1293.8,345.6L1288.1,355.7L1283.1,347.8L1277.0,357.1L1272.9,349.8L1267.6,359.8L1262.9,352.2L1256.7,360.7L1250.6,354.7L1241.8,365.3L1237.7,357.8L1231.7,366.8L1225.6,361.0L1217.4,370.1L1213.6,362.0L1208.0,371.7L1200.0,364.9L1190.3,375.4L1185.8,370.5L1179.7,379.6L1172.0,373.9L1163.8,383.9L1158.6,375.6L1152.5,385.9L1145.4,377.5L1137.4,388.7L1129.7,381.9L1120.6,390.5L1115.3,385.1L1107.9,393.5L1103.7,387.3L1097.4,396.6L1092.8,391.1L1086.6,402.0L1081.5,394.7L1074.4,407.2L1070.7,399.0L1065.4,411.5L1057.6,405.0L1048.3,417.6L1042.3,411.8L1033.9,421.5L1029.1,414.9L1022.3,426.8L1014.9,419.6L1004.8,431.0L999.6,424.3L991.7,435.2L985.5,427.5L976.4,438.2L969.1,432.3L958.8,441.7L953.6,434.5L946.1,444.4L940.7,438.4L933.3,447.7L927.4,440.8L919.9,450.4L914.3,441.7L908.2,453.4L899.7,446.6L890.9,457.6L884.1,450.5L876.3,460.7L869.9,455.3L861.0,466.3L856.1,459.3L848.8,470.2L840.7,464.5L831.6,475.3L826.8,468.6L820.1,479.2L814.4,473.3L805.5,483.5L800.2,475.6L792.4,488.2L788.0,481.5L782.3,490.2L775.8,483.1L768.6,492.5L761.5,486.3L753.6,496.6L748.2,490.1L741.5,498.5L737.2,491.4L731.2,502.9L726.3,495.6L719.5,506.3L713.8,501.1L705.7,513.1L698.9,507.3L690.5,519.7L683.5,512.1L674.7,524.5L667.6,518.1L658.4,530.3L650.6,524.1L641.7,536.8L634.8,531.3L626.9,543.8L619.5,541.5L610.9,555.7L603.3,551.4L594.3,566.2L586.3,563.4L576.6,576.8L569.9,570.2L561.4,585.6L555.9,578.7L547.9,591.5L541.0,586.7L532.1,599.7L525.5,591.8L517.3,603.3L513.0,597.7L507.4,609.3L500.6,602.4L493.1,615.0L486.5,611.4L478.0,622.9L473.6,617.1L467.0,626.4L459.0,621.8L449.9,636.6L441.0,632.6L431.7,646.6L423.6,644.4L413.6,657.4L407.0,652.3L398.7,666.2L391.2,661.7L382.4,675.1L378.7,671.1L373.0,682.1L366.5,677.2L359.4,689.8L351.8,686.1L343.6,697.7L337.9,691.6L331.3,706.3L323.7,700.0L314.1,714.9L309.9,708.3L302.9,720.5L298.4,715.0L292.3,725.6L286.8,717.8L280.1,728.1L275.4,721.6L269.9,733.7L261.0,723.9L250.9,736.0Z" fill="#d2001a" stroke="none"/>
<path d="M250.9,732.8L255.1,715.8M269.9,730.1L272.0,706.7M280.1,726.6L283.7,701.0M292.3,727.6L295.3,691.9M302.9,720.3L307.1,689.1M314.1,719.4L319.6,679.4M331.3,710.7L334.0,666.1M343.6,697.9L346.9,661.5M359.4,692.7L361.4,650.1M373.0,683.1L376.1,639.6M382.4,679.7L387.1,639.0M398.7,665.3L400.7,629.5M413.6,661.7L418.9,619.2M431.7,649.8L434.1,607.0M449.9,635.6L452.2,598.4M467.0,625.3L470.9,591.2M478.0,624.2L482.5,587.0M493.1,612.3L496.6,577.6M507.4,609.9L509.6,574.9M517.3,605.7L521.9,566.0M532.1,600.2L534.6,561.6M547.9,591.0L553.4,551.7M561.4,582.3L564.9,544.6M576.6,575.7L580.4,537.0M594.3,568.9L597.6,520.8M610.9,557.5L614.2,514.0M626.9,548.9L630.0,501.0M641.7,538.4L644.6,494.2M658.4,532.1L661.6,486.3M674.7,526.2L679.8,478.6M690.5,522.0L693.1,473.7M705.7,510.3L710.3,467.6M719.5,509.1L723.7,462.6M731.2,503.4L734.8,460.7M741.5,496.3L745.2,457.8M753.6,492.1L756.3,451.6M768.6,495.2L771.4,451.3M782.3,491.5L784.7,444.8M792.4,485.1L796.3,440.3M805.5,483.2L810.4,437.2M820.1,480.9L825.5,429.7M831.6,474.4L834.0,425.9M848.8,467.5L852.2,422.6M861.0,467.7L866.5,415.1M876.3,458.5L879.8,407.0M890.9,457.0L893.4,406.9M908.2,452.0L910.3,403.8M919.9,446.1L922.8,395.1M933.3,446.9L937.6,394.1M946.1,441.9L950.0,395.3M958.8,441.5L963.5,394.9M976.4,437.6L981.6,391.6M991.7,435.4L996.2,384.6M1004.8,428.2L1009.9,382.9M1022.3,424.5L1026.8,377.7M1033.9,421.7L1037.6,372.4M1048.3,412.6L1053.2,370.0M1065.4,412.1L1067.5,358.3M1074.4,403.8L1079.4,357.1M1086.6,405.0L1089.6,356.9M1097.4,393.2L1101.6,353.0M1107.9,395.1L1112.0,343.1M1120.6,391.0L1124.8,340.2M1137.4,389.6L1140.0,340.6M1152.5,386.4L1155.5,339.8M1163.8,382.6L1166.6,333.2M1179.7,381.4L1182.0,334.4M1190.3,376.9L1195.4,329.2M1208.0,370.1L1210.2,319.5M1217.4,372.2L1222.9,318.1M1231.7,366.6L1234.6,317.0M1241.8,367.0L1246.8,312.8M1256.7,363.4L1260.8,310.1M1267.6,356.6L1270.4,306.6M1277.0,362.0L1280.7,306.8M1288.1,353.4L1290.7,306.6M1298.8,352.2L1301.7,306.0M1312.7,355.1L1314.8,301.2M1326.8,351.4L1330.4,299.9M1340.9,340.7L1345.5,295.6M1351.2,345.1L1354.7,291.9M1361.9,339.8L1366.5,290.9M1378.2,333.5L1382.5,280.6M1393.2,326.9L1396.7,281.2M1405.0,324.5L1407.4,276.1M1413.7,322.3L1416.5,278.5M1425.0,321.7L1428.1,281.0M1436.8,326.2L1440.3,281.1M1448.2,327.2L1453.5,275.2M1461.3,327.4L1465.0,279.7M1476.6,326.6L1479.7,276.3M1487.6,329.2L1489.9,276.4M1496.3,323.5L1499.2,279.6M1504.3,323.2L1508.9,281.5M1514.0,325.4L1517.5,277.0M1526.5,327.0L1531.2,279.1M1541.8,327.1L1546.4,279.7M1552.3,322.2L1554.6,279.2M1559.9,324.8L1564.7,280.7M1570.7,327.3L1575.8,275.2M1582.7,318.9L1585.9,274.7M1591.4,319.5L1595.3,273.1M1606.3,318.2L1608.7,269.0M1616.7,320.9L1621.4,269.8M1625.7,316.1L1630.7,273.2" stroke="#30000a" stroke-width="5" opacity="0.16"/>
<path d="M1638.9,341.5L1642.6,286.0M1648.6,336.3L1652.6,282.4M1658.0,340.2L1663.6,281.1M1667.7,336.6L1672.7,288.1" stroke="#04001a" stroke-width="6" opacity="0.75"/>
<path d="M1675.5,283 V338" stroke="#04001a" stroke-width="7"/>
</g>
<g filter="url(#b3)">
<ellipse cx="911" cy="404" rx="8" ry="12" fill="#1c0c90"/>
<ellipse cx="699" cy="524" rx="17" ry="10" fill="#200ea0" transform="rotate(-28 699 524)"/>
<ellipse cx="1655" cy="308" rx="18" ry="14" fill="#2412b0"/>
<ellipse cx="254" cy="730" rx="6" ry="18" fill="#10062c"/>
</g>
<g filter="url(#bh)">
<circle cx="316" cy="693" r="9" fill="#ff0808" opacity="0.8"/>
<circle cx="1203" cy="346" r="8" fill="#ff0808" opacity="0.8"/>
<circle cx="606" cy="541" r="8" fill="#ff0808" opacity="0.8"/>
<circle cx="1278" cy="335" r="8" fill="#ff0808" opacity="0.8"/>
<circle cx="1007" cy="405" r="9" fill="#ff0808" opacity="0.8"/>
<circle cx="1615" cy="289" r="7" fill="#ff0808" opacity="0.8"/>
<circle cx="1541" cy="301" r="8" fill="#ff0808" opacity="0.8"/>
<circle cx="736" cy="478" r="12" fill="#ff0808" opacity="0.8"/>
<circle cx="578" cy="553" r="10" fill="#ff0808" opacity="0.8"/>
<circle cx="1023" cy="407" r="11" fill="#ff0808" opacity="0.8"/>
<circle cx="769" cy="466" r="11" fill="#ff0808" opacity="0.8"/>
<circle cx="1605" cy="291" r="11" fill="#ff0808" opacity="0.8"/>
<circle cx="1446" cy="304" r="8" fill="#ff0808" opacity="0.8"/>
<circle cx="1352" cy="319" r="8" fill="#ff0808" opacity="0.8"/>
<circle cx="1146" cy="360" r="7" fill="#ff0808" opacity="0.8"/>
<circle cx="744" cy="474" r="9" fill="#ff0808" opacity="0.8"/>
<circle cx="1154" cy="366" r="12" fill="#ff0808" opacity="0.8"/>
<circle cx="1589" cy="305" r="11" fill="#ff0808" opacity="0.8"/>
<circle cx="704" cy="489" r="10" fill="#ff0808" opacity="0.8"/>
<circle cx="1020" cy="404" r="7" fill="#ff0808" opacity="0.8"/>
<circle cx="554" cy="574" r="10" fill="#ff0808" opacity="0.8"/>
<circle cx="1218" cy="341" r="9" fill="#ff0808" opacity="0.8"/>
<circle cx="1501" cy="305" r="12" fill="#ff0808" opacity="0.8"/>
<circle cx="560" cy="566" r="11" fill="#ff0808" opacity="0.8"/>
<circle cx="887" cy="436" r="10" fill="#ff0808" opacity="0.8"/>
<circle cx="456" cy="610" r="12" fill="#ff0808" opacity="0.8"/>
<circle cx="458" cy="610" r="9" fill="#ff0808" opacity="0.8"/>
<circle cx="1242" cy="345" r="9" fill="#ff0808" opacity="0.8"/>
<circle cx="958" cy="420" r="8" fill="#ff0808" opacity="0.8"/>
<circle cx="792" cy="466" r="10" fill="#ff0808" opacity="0.8"/>
<circle cx="350" cy="672" r="8" fill="#ff0808" opacity="0.8"/>
<circle cx="1257" cy="340" r="12" fill="#ff0808" opacity="0.8"/>
<circle cx="1313" cy="323" r="11" fill="#ff0808" opacity="0.8"/>
<circle cx="1600" cy="296" r="7" fill="#ff0808" opacity="0.8"/>
<circle cx="795" cy="461" r="8" fill="#ff0808" opacity="0.8"/>
<circle cx="360" cy="666" r="11" fill="#ff0808" opacity="0.8"/>
<circle cx="366" cy="668" r="8" fill="#ff0808" opacity="0.8"/>
<circle cx="555" cy="573" r="8" fill="#ff0808" opacity="0.8"/>
<circle cx="543" cy="575" r="10" fill="#ff0808" opacity="0.8"/>
<circle cx="992" cy="414" r="9" fill="#ff0808" opacity="0.8"/>
<circle cx="992" cy="412" r="9" fill="#ff0808" opacity="0.8"/>
<circle cx="1246" cy="340" r="8" fill="#ff0808" opacity="0.8"/>
<circle cx="463" cy="614" r="11" fill="#ff0808" opacity="0.8"/>
<circle cx="1544" cy="304" r="10" fill="#ff0808" opacity="0.8"/>
<circle cx="519" cy="589" r="8" fill="#ff0808" opacity="0.8"/>
<circle cx="402" cy="641" r="7" fill="#a00022" opacity="0.6"/>
<circle cx="1488" cy="303" r="9" fill="#a00022" opacity="0.6"/>
<circle cx="432" cy="629" r="9" fill="#a00022" opacity="0.6"/>
<circle cx="990" cy="419" r="10" fill="#a00022" opacity="0.6"/>
<circle cx="790" cy="455" r="9" fill="#a00022" opacity="0.6"/>
<circle cx="467" cy="599" r="9" fill="#a00022" opacity="0.6"/>
<circle cx="1413" cy="309" r="10" fill="#a00022" opacity="0.6"/>
<circle cx="566" cy="554" r="6" fill="#a00022" opacity="0.6"/>
<circle cx="1591" cy="291" r="7" fill="#a00022" opacity="0.6"/>
<circle cx="327" cy="682" r="6" fill="#a00022" opacity="0.6"/>
<circle cx="766" cy="464" r="7" fill="#a00022" opacity="0.6"/>
<circle cx="1526" cy="296" r="9" fill="#a00022" opacity="0.6"/>
<circle cx="1275" cy="335" r="8" fill="#a00022" opacity="0.6"/>
<circle cx="1317" cy="327" r="7" fill="#a00022" opacity="0.6"/>
<circle cx="735" cy="475" r="8" fill="#a00022" opacity="0.6"/>
<circle cx="1603" cy="296" r="6" fill="#a00022" opacity="0.6"/>
<circle cx="929" cy="429" r="8" fill="#a00022" opacity="0.6"/>
<circle cx="1227" cy="336" r="6" fill="#a00022" opacity="0.6"/>
<circle cx="1174" cy="348" r="7" fill="#a00022" opacity="0.6"/>
<circle cx="808" cy="453" r="6" fill="#a00022" opacity="0.6"/>
<circle cx="309" cy="711" r="9" fill="#a00022" opacity="0.6"/>
<circle cx="1556" cy="301" r="10" fill="#a00022" opacity="0.6"/>
<circle cx="1439" cy="304" r="8" fill="#a00022" opacity="0.6"/>
<circle cx="971" cy="408" r="8" fill="#a00022" opacity="0.6"/>
<circle cx="1254" cy="332" r="9" fill="#a00022" opacity="0.6"/>
<circle cx="973" cy="416" r="9" fill="#a00022" opacity="0.6"/>
<circle cx="1153" cy="355" r="7" fill="#a00022" opacity="0.6"/>
<circle cx="301" cy="696" r="10" fill="#a00022" opacity="0.6"/>
<circle cx="1083" cy="389" r="9" fill="#a00022" opacity="0.6"/>
<circle cx="717" cy="497" r="10" fill="#a00022" opacity="0.6"/>
<circle cx="902" cy="420" r="7" fill="#a00022" opacity="0.6"/>
<circle cx="520" cy="582" r="6" fill="#a00022" opacity="0.6"/>
<circle cx="1241" cy="351" r="7" fill="#a00022" opacity="0.6"/>
<circle cx="1330" cy="323" r="8" fill="#a00022" opacity="0.6"/>
<circle cx="1498" cy="301" r="9" fill="#a00022" opacity="0.6"/>
<circle cx="346" cy="689" r="7" fill="#a00022" opacity="0.6"/>
<circle cx="305" cy="712" r="9" fill="#a00022" opacity="0.6"/>
<circle cx="1191" cy="358" r="8" fill="#a00022" opacity="0.6"/>
<circle cx="451" cy="614" r="10" fill="#a00022" opacity="0.6"/>
<circle cx="1596" cy="293" r="8" fill="#a00022" opacity="0.6"/>
<circle cx="895" cy="438" r="6" fill="#a00022" opacity="0.6"/>
<circle cx="1395" cy="301" r="8" fill="#a00022" opacity="0.6"/>
<circle cx="470" cy="599" r="10" fill="#a00022" opacity="0.6"/>
<circle cx="964" cy="425" r="9" fill="#a00022" opacity="0.6"/>
<circle cx="1293" cy="322" r="8" fill="#a00022" opacity="0.6"/>
</g>
<g filter="url(#b2)" stroke="#000" stroke-width="7.6" fill="none">
<path d="M249.4,53.2 V976.8"/>
<path d="M245.6,973.0 H1678.2"/>
<path d="M249.4,842.1 H262" stroke-linecap="round"/>
<path d="M249.4,580.4 H262" stroke-linecap="round"/>
<path d="M249.4,449.6 H262" stroke-linecap="round"/>
<path d="M249.4,318.7 H262" stroke-linecap="round"/>
<path d="M249.4,187.9 H262" stroke-linecap="round"/>
<path d="M249.4,57.0 H262" stroke-linecap="round"/>
<path d="M534.4,973.0 V960.5" stroke-linecap="round"/>
<path d="M819.4,973.0 V960.5" stroke-linecap="round"/>
<path d="M1104.4,973.0 V960.5" stroke-linecap="round"/>
<path d="M1389.4,973.0 V960.5" stroke-linecap="round"/>
<path d="M1674.4,973.0 V960.5" stroke-linecap="round"/>
</g>
<rect x="1050" y="296" width="48.7" height="57.7" fill="#fff"/>
<g stroke="#000" stroke-width="4.8" stroke-linecap="round" fill="#000">
<line x1="1107.7" y1="171.3" x2="1079" y2="296"/>
<polygon points="1064.6,352.6 1059,290.8 1097.1,299.9" stroke="none"/>
<line x1="908" y1="697.5" x2="737.5" y2="584" stroke-width="5.2"/>
<polygon points="688.2,551.9 748.2,568.3 726.6,600.4" stroke="none"/>
</g>
<g font-family="'Liberation Serif', 'Noto Serif CJK SC', serif" fill="#000">
<text id="y30" transform="translate(238.00,998.30) scale(0.98,1)" text-anchor="end" font-size="79.6">30</text>
<text id="y40" transform="translate(238.00,867.44) scale(0.98,1)" text-anchor="end" font-size="79.6">40</text>
<text id="y50" transform="translate(238.00,736.59) scale(0.98,1)" text-anchor="end" font-size="79.6">50</text>
<text id="y60" transform="translate(238.00,605.73) scale(0.98,1)" text-anchor="end" font-size="79.6">60</text>
<text id="y70" transform="translate(238.00,474.87) scale(0.98,1)" text-anchor="end" font-size="79.6">70</text>
<text id="y80" transform="translate(238.00,344.01) scale(0.98,1)" text-anchor="end" font-size="79.6">80</text>
<text id="y90" transform="translate(238.00,213.16) scale(0.98,1)" text-anchor="end" font-size="79.6">90</text>
<text id="y100" transform="translate(238.00,82.30) scale(0.98,1)" text-anchor="end" font-size="79.6">100</text>
<text id="x0" transform="translate(260.40,1042.00) scale(0.98,1)" text-anchor="middle" font-size="79.6">0</text>
<text id="x500" transform="translate(532.40,1042.00) scale(0.98,1)" text-anchor="middle" font-size="79.6">500</text>
<text id="x1000" transform="translate(820.90,1042.00) scale(0.98,1)" text-anchor="middle" font-size="79.6">1000</text>
<text id="x1500" transform="translate(1105.90,1042.00) scale(0.98,1)" text-anchor="middle" font-size="79.6">1500</text>
<text id="x2000" transform="translate(1390.40,1042.00) scale(0.98,1)" text-anchor="middle" font-size="79.6">2000</text>
<text id="x2500" transform="translate(1674.90,1042.00) scale(0.98,1)" text-anchor="middle" font-size="79.6">2500</text>
<text id="shiyan" transform="translate(1125.00,157.00) scale(1,1)" text-anchor="middle" font-size="77.5" stroke="#000" stroke-width="0.5">试验值</text>
<text id="jisuan" transform="translate(980.50,778.00) scale(1,1)" text-anchor="middle" font-size="77.5" stroke="#000" stroke-width="0.5">计算值</text>
<text id="ylab" transform="translate(82.70,544.00) rotate(-90)" text-anchor="middle" font-size="77.5" stroke="#000" stroke-width="0.4">温度<tspan font-size="80">/</tspan><tspan font-size="49" dx="3" dy="-20.5">°</tspan><tspan font-size="80" dx="1" dy="20.5">C</tspan></text>
<text id="ts" transform="translate(954.30,1174.30) scale(0.98,1)" text-anchor="middle" font-size="79.6"><tspan font-style="italic">t</tspan>/s</text>
</g>
</svg>
</body></html>
